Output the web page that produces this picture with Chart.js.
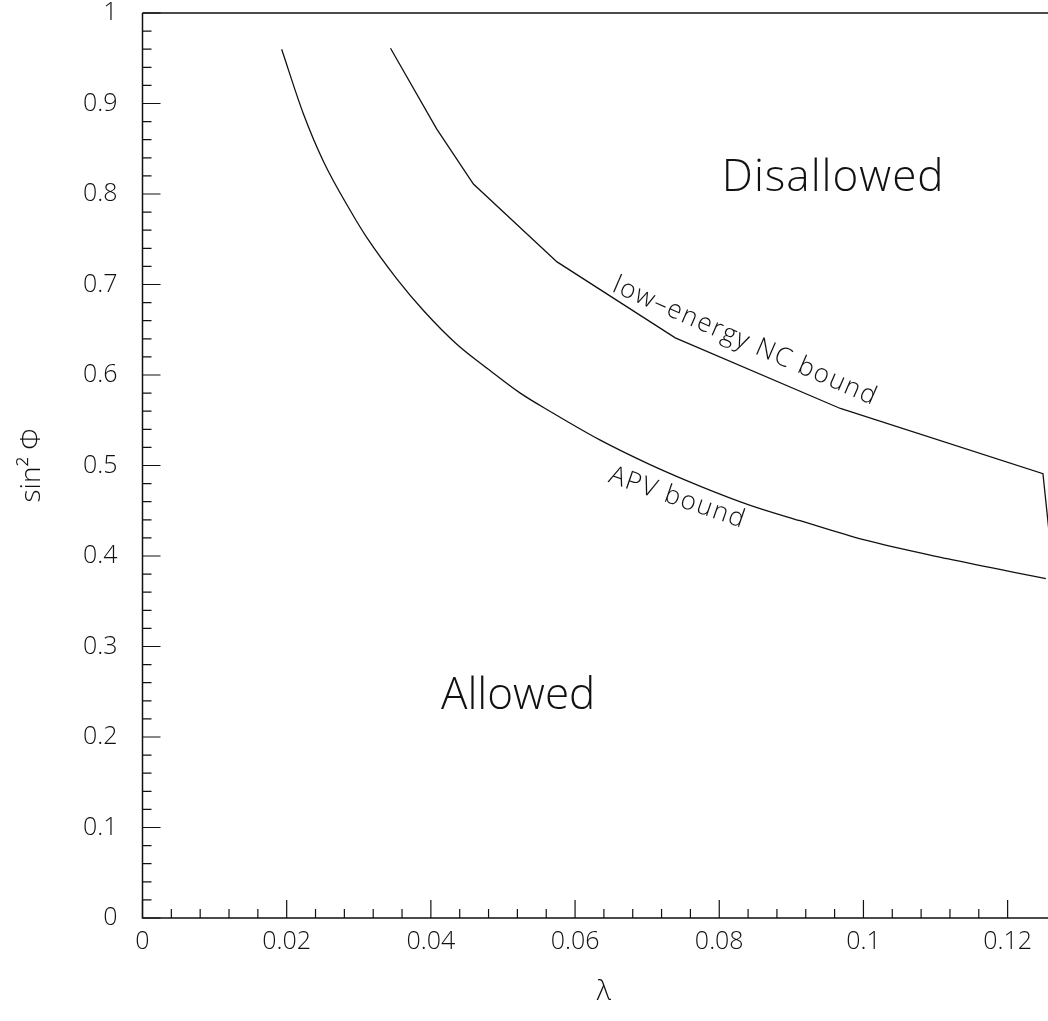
<!DOCTYPE html>
<html>
<head>
<meta charset="utf-8">
<script src="https://cdn.jsdelivr.net/npm/chart.js@4.4.0/dist/chart.umd.min.js"></script>
<style>
  html, body { margin: 0; padding: 0; background: #fff; }
  #wrap { width: 1048px; height: 1021px; }
</style>
</head>
<body>
<div id="wrap"><canvas id="c" width="1048" height="1021"></canvas></div>
<script>
// ---- data ----
const apvLambda = [0.0193, 0.0223, 0.0251, 0.0288, 0.0311, 0.0353, 0.0390, 0.0436, 0.0482, 0.0524, 0.0565, 0.0635, 0.0704, 0.0774, 0.0843, 0.0912, 0.1000, 0.1116, 0.1253];
const apvSin2 = [0.960, 0.889, 0.836, 0.782, 0.752, 0.706, 0.671, 0.634, 0.605, 0.580, 0.560, 0.528, 0.501, 0.477, 0.456, 0.439, 0.418, 0.397, 0.375];
const ncLambda = [0.0344, 0.0408, 0.0459, 0.0575, 0.0739, 0.0968, 0.1249, 0.1257];
const ncSin2 = [0.961, 0.872, 0.811, 0.725, 0.641, 0.563, 0.491, 0.430];
const xTickLabels = ['0', '0.02', '0.04', '0.06', '0.08', '0.1', '0.12'];
const yTickLabels = ['0', '0.1', '0.2', '0.3', '0.4', '0.5', '0.6', '0.7', '0.8', '0.9', '1'];

const FONT = "'Open Sans', 'DejaVu Sans', sans-serif";
const INK = '#111';

function toPts(xs, ys) { return xs.map((x, i) => ({ x: x, y: ys[i] })); }
function isMult(v, step) { const r = v / step; return Math.abs(r - Math.round(r)) < 1e-6; }

const decor = {
  id: 'decor',
  afterDraw(chart) {
    const ctx = chart.ctx, a = chart.chartArea;
    const xs = chart.scales.x, ys = chart.scales.y;
    ctx.save();
    ctx.strokeStyle = INK;
    ctx.lineWidth = 1.5;
    // frame: left, bottom, top
    ctx.beginPath();
    ctx.moveTo(a.left, a.top); ctx.lineTo(a.right, a.top);
    ctx.moveTo(a.left, a.top); ctx.lineTo(a.left, a.bottom); ctx.lineTo(a.right, a.bottom);
    ctx.stroke();
    // inward ticks
    ctx.lineWidth = 1.2;
    ctx.beginPath();
    xs.ticks.forEach(t => {
      if (!isMult(t.value, 0.004)) return;
      const px = xs.getPixelForValue(t.value);
      const len = isMult(t.value, 0.02) ? 18 : 9;
      ctx.moveTo(px, a.bottom); ctx.lineTo(px, a.bottom - len);
    });
    ys.ticks.forEach(t => {
      if (!isMult(t.value, 0.02)) return;
      const py = ys.getPixelForValue(t.value);
      const len = isMult(t.value, 0.1) ? 18 : 9;
      ctx.moveTo(a.left, py); ctx.lineTo(a.left + len, py);
    });
    ctx.stroke();

    // annotations
    ctx.fillStyle = INK;
    ctx.textAlign = 'center';
    ctx.textBaseline = 'middle';
    ctx.font = '300 44px ' + FONT;
    ctx.letterSpacing = '1px';
    ctx.fillText('Disallowed', xs.getPixelForValue(0.0958), ys.getPixelForValue(0.817));
    ctx.letterSpacing = '0px';
    ctx.fillText('Allowed', xs.getPixelForValue(0.0521), ys.getPixelForValue(0.245));

    ctx.font = '300 26px ' + FONT;
    ctx.letterSpacing = '1.5px';
    ctx.save();
    ctx.translate(xs.getPixelForValue(0.0836), ys.getPixelForValue(0.637));
    ctx.rotate(23.6 * Math.PI / 180);
    ctx.fillText('low\u2013energy NC bound', 0, 0);
    ctx.restore();
    ctx.save();
    ctx.translate(xs.getPixelForValue(0.0742), ys.getPixelForValue(0.464));
    ctx.rotate(19 * Math.PI / 180);
    ctx.fillText('APV bound', 0, 0);
    ctx.restore();
    ctx.letterSpacing = '0px';

    // axis titles
    ctx.font = '300 28px ' + FONT;
    ctx.fillText('\u03bb', xs.getPixelForValue(0.064), 992);
    ctx.save();
    ctx.translate(32, ys.getPixelForValue(0.5));
    ctx.rotate(-Math.PI / 2);
    ctx.fillText('sin\u00b2 \u03a6', 0, 0);
    ctx.restore();
    ctx.restore();
  }
};

new Chart(document.getElementById('c'), {
  type: 'scatter',
  data: {
    datasets: [
      { label: 'APV bound', data: toPts(apvLambda, apvSin2), showLine: true, borderColor: INK, borderWidth: 1.3, pointRadius: 0, cubicInterpolationMode: 'monotone', fill: false },
      { label: 'low-energy NC bound', data: toPts(ncLambda, ncSin2), showLine: true, borderColor: INK, borderWidth: 1.3, pointRadius: 0, tension: 0, fill: false }
    ]
  },
  plugins: [decor],
  options: {
    responsive: false,
    animation: false,
    devicePixelRatio: 1,
    layout: { padding: { top: 13, right: 0, left: 0, bottom: 0 } },
    plugins: { legend: { display: false }, tooltip: { enabled: false } },
    scales: {
      x: {
        type: 'linear', min: 0, max: 0.1256,
        border: { display: false },
        grid: { display: false, drawTicks: false },
        ticks: {
          stepSize: 0.004, autoSkip: false, maxRotation: 0, padding: 9,
          color: INK, font: { family: FONT, size: 25, weight: 300 },
          callback: (v) => {
            if (!isMult(v, 0.02) || v > 0.1256) return '';
            return xTickLabels[Math.round(v / 0.02)];
          }
        },
        afterFit: (s) => { s.height = 103; s.paddingLeft = 0; s.paddingRight = 0; s.paddingTop = 0; s.paddingBottom = 0; }
      },
      y: {
        type: 'linear', min: 0, max: 1,
        border: { display: false },
        grid: { display: false, drawTicks: false },
        ticks: {
          stepSize: 0.02, autoSkip: false, padding: 25,
          color: INK, font: { family: FONT, size: 25, weight: 300 },
          callback: (v) => {
            if (!isMult(v, 0.1)) return '';
            return yTickLabels[Math.round(v / 0.1)];
          }
        },
        afterFit: (s) => { s.width = 142.5; s.paddingLeft = 0; s.paddingRight = 0; s.paddingTop = 0; s.paddingBottom = 0; }
      }
    }
  }
});
</script>
</body>
</html>
